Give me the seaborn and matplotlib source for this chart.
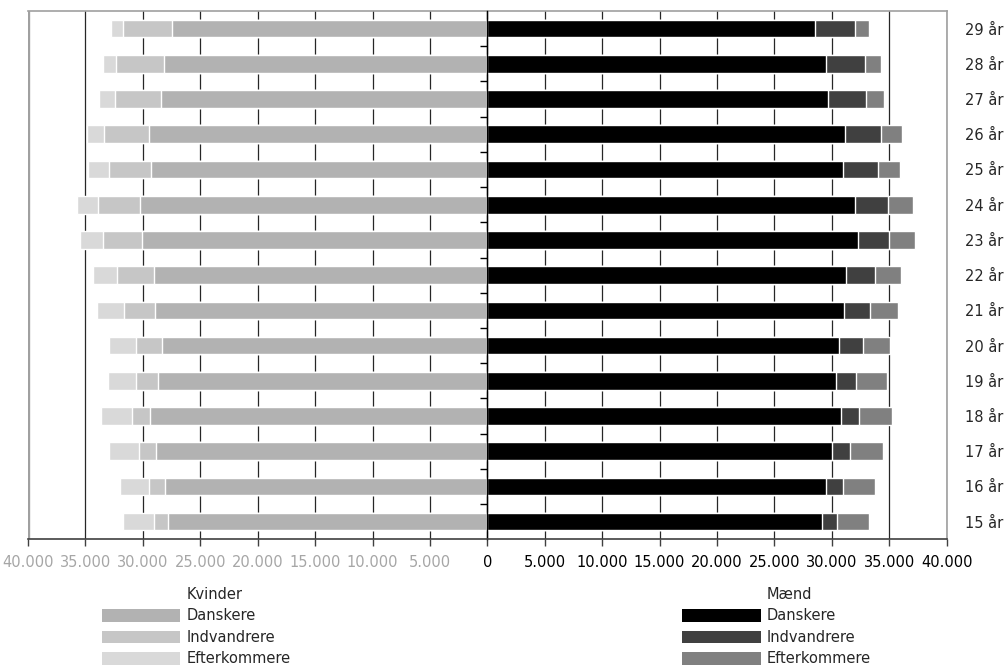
import numpy as np
import pandas as pd
import matplotlib.pyplot as plt
import seaborn as sns
from matplotlib.patches import Patch
from matplotlib.ticker import FixedLocator, FuncFormatter

# Befolkning 15-29 år fordelt på køn og herkomst
ages = ["29 år", "28 år", "27 år", "26 år", "25 år", "24 år", "23 år", "22 år",
        "21 år", "20 år", "19 år", "18 år", "17 år", "16 år", "15 år"]

kvinder_danskere = [27500, 28200, 28400, 29500, 29330, 30280, 30110, 29070,
                    28920, 28320, 28640, 29360, 28840, 28060, 27770]
kvinder_indvandrere = [4250, 4170, 4050, 3900, 3640, 3640, 3380, 3180,
                       2750, 2310, 1930, 1620, 1530, 1360, 1300]
kvinder_efterkommere = [1050, 1120, 1360, 1480, 1820, 1850, 2000, 2110,
                        2320, 2280, 2430, 2630, 2580, 2570, 2630]

maend_danskere = [28530, 29450, 29630, 31110, 31000, 32050, 32250, 31200,
                  31030, 30620, 30360, 30760, 29980, 29490, 29100]
maend_indvandrere = [3520, 3470, 3380, 3210, 3000, 2880, 2740, 2570,
                     2270, 2070, 1780, 1640, 1570, 1450, 1350]
maend_efterkommere = [1220, 1370, 1570, 1810, 1890, 2130, 2220, 2270,
                      2480, 2390, 2680, 2860, 2890, 2830, 2800]

groups = ["Danskere", "Indvandrere", "Efterkommere"]
kvinder_colors = ["#b2b2b2", "#c6c6c6", "#d9d9d9"]
maend_colors = ["#000000", "#404040", "#808080"]

sns.set_style("white")
plt.rcParams['font.family'] = ['DejaVu Sans']
plt.rcParams['font.size'] = 10.5

df = pd.DataFrame({
    "alder": ages,
    "k_d": kvinder_danskere, "k_i": kvinder_indvandrere, "k_e": kvinder_efterkommere,
    "m_d": maend_danskere, "m_i": maend_indvandrere, "m_e": maend_efterkommere,
})
# cumulative values, women to the left (negative)
df["k1"] = -df["k_d"]
df["k2"] = -(df["k_d"] + df["k_i"])
df["k3"] = -(df["k_d"] + df["k_i"] + df["k_e"])
df["m1"] = df["m_d"]
df["m2"] = df["m_d"] + df["m_i"]
df["m3"] = df["m_d"] + df["m_i"] + df["m_e"]

fig = plt.figure(figsize=(10.08, 6.67), dpi=100)
ax = fig.add_axes([28 / 1008, 127.7 / 667, 918.7 / 1008, 528.3 / 667])

# draw stacked bars as overlapping cumulative bars (outermost first)
for col, color in zip(["k3", "k2", "k1"], kvinder_colors[::-1]):
    sns.barplot(data=df, x=col, y="alder", order=ages, color=color, orient="h",
                width=0.5, saturation=1, errorbar=None, ax=ax, zorder=2)
for col, color in zip(["m3", "m2", "m1"], maend_colors[::-1]):
    sns.barplot(data=df, x=col, y="alder", order=ages, color=color, orient="h",
                width=0.5, saturation=1, errorbar=None, ax=ax, zorder=2)

ax.set_xlim(-40000, 40000)
ax.set_ylim(len(ages) - 0.5, -0.5)
ax.set_xlabel("")
ax.set_ylabel("")

# x axis
xticks = np.arange(-40000, 40001, 5000)
ax.set_xticks(xticks)
ax.xaxis.set_major_formatter(FuncFormatter(lambda v, p: f"{abs(int(v)):,}".replace(",", ".")))
ax.tick_params(axis="x", bottom=True, length=5, width=1, color="#404040", pad=6)
for v, lab in zip(xticks, ax.get_xticklabels()):
    lab.set_color("#a6a6a6" if v < 0 else "black")

ax.grid(axis="x", color="#262626", lw=0.9)
ax.grid(axis="y", visible=False)
ax.set_axisbelow(True)

# y axis: spine at zero with boundary ticks, labels on the right
ax.spines["left"].set_position(("data", 0))
ax.spines["left"].set_color("black")
ax.spines["left"].set_linewidth(1)
ax.spines["left"].set_zorder(3)
ax.yaxis.set_minor_locator(FixedLocator(np.arange(0.5, len(ages) - 1, 1)))
ax.tick_params(axis="y", which="major", left=False, right=False,
               labelleft=False, labelright=True, pad=10)
ax.tick_params(axis="y", which="minor", left=True, right=False,
               length=5, width=1, color="black", direction="out")

for side in ["top", "right"]:
    ax.spines[side].set_color("#a0a0a0")
    ax.spines[side].set_linewidth(1.2)
ax.spines["bottom"].set_color("#404040")
ax.spines["bottom"].set_linewidth(1.2)
ax.spines["bottom"].set_zorder(3)
ax.axvline(-40000, color="#a0a0a0", lw=2.4, zorder=3)

# legends
blank = Patch(facecolor="none", edgecolor="none")
leg_kw = dict(loc="upper left", frameon=False, borderpad=0, borderaxespad=0,
              handlelength=5.4, handleheight=0.95, handletextpad=0.4,
              labelspacing=0.44, fontsize=10.5)
k_handles = [blank] + [Patch(facecolor=c, edgecolor="none") for c in kvinder_colors]
m_handles = [blank] + [Patch(facecolor=c, edgecolor="none") for c in maend_colors]
fig.legend(handles=k_handles, labels=["Kvinder"] + groups,
           bbox_to_anchor=(101.7 / 1008, 1 - 587 / 667), **leg_kw)
fig.legend(handles=m_handles, labels=["Mænd"] + groups,
           bbox_to_anchor=(682.3 / 1008, 1 - 587 / 667), **leg_kw)

fig.savefig("out.png", dpi=100)
